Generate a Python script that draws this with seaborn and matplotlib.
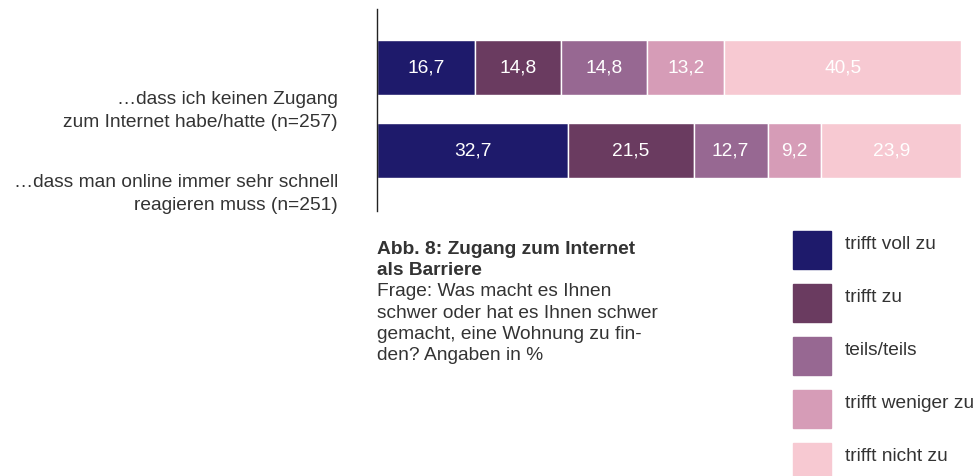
import numpy as np
import matplotlib
matplotlib.use("Agg")
import matplotlib.pyplot as plt
import matplotlib.transforms as mtransforms
from matplotlib.patches import Rectangle
import seaborn as sns

statements = ["…dass ich keinen Zugang\nzum Internet habe/hatte (n=257)",
              "…dass man online immer sehr schnell\nreagieren muss (n=251)"]
answers = ["trifft voll zu", "trifft zu", "teils/teils", "trifft weniger zu", "trifft nicht zu"]
voll = [16.7, 32.7]
zu = [14.8, 21.5]
teils = [14.8, 12.7]
weniger = [13.2, 9.2]
nicht = [40.5, 23.9]
colors = ["#1e1a6b", "#6a3b60", "#976892", "#d69cb7", "#f7c9d2"]

sns.set_theme(style="white")
plt.rcParams["font.family"] = ["Liberation Sans", "DejaVu Sans"]
txt = "#333333"
fs = 13.8

fig = plt.figure(figsize=(9.8, 4.77), dpi=100)
ax = fig.add_axes([377/980, 1-212/477, (961-377)/980, 202/477])

series = [voll, zu, teils, weniger, nicht]
y = np.arange(len(statements))
left = np.zeros(len(statements))
for vals, col, name in zip(series, colors, answers):
    bars = ax.barh(y, vals, left=left, height=0.66, color=col,
                   edgecolor="white", linewidth=1.0, label=name)
    ax.bar_label(bars, labels=[f"{v:.1f}".replace(".", ",") for v in vals],
                 label_type="center", color="white", fontsize=fs)
    left += np.array(vals)

ax.set_xlim(0, 100)
ax.set_ylim(1.73, -0.705)
ax.set_yticks(y)
ax.set_yticklabels(statements, fontsize=fs, color=txt, ha="right", linespacing=1.4)
ax.tick_params(axis="y", length=0, pad=28)
offset = mtransforms.ScaledTranslation(0, -0.38, fig.dpi_scale_trans)
for lab in ax.get_yticklabels():
    lab.set_transform(lab.get_transform() + offset)
ax.set_xticks([])
sns.despine(ax=ax, top=True, right=True, bottom=True)
ax.spines["left"].set_color("#222222")
ax.spines["left"].set_linewidth(1.0)

caption_bold = ["Abb. 8: Zugang zum Internet", "als Barriere"]
caption = ["Frage: Was macht es Ihnen", "schwer oder hat es Ihnen schwer",
           "gemacht, eine Wohnung zu fin-", "den? Angaben in %"]
for i, line in enumerate(caption_bold + caption):
    fig.text(377/980, 1-(254 + 21.2*i)/477, line, fontsize=fs, color=txt,
             va="baseline", fontweight="bold" if line in caption_bold else "normal")

for i, (name, col) in enumerate(zip(answers, colors)):
    top = 232 + 53 * i
    fig.patches.append(Rectangle((793/980, 1-(top+38)/477), 38/980, 38/477,
                                 transform=fig.transFigure, color=col))
    fig.text(845/980, 1-(top+13)/477, name, fontsize=fs, color=txt, va="center")

fig.savefig("out.png", dpi=100, facecolor="white")
